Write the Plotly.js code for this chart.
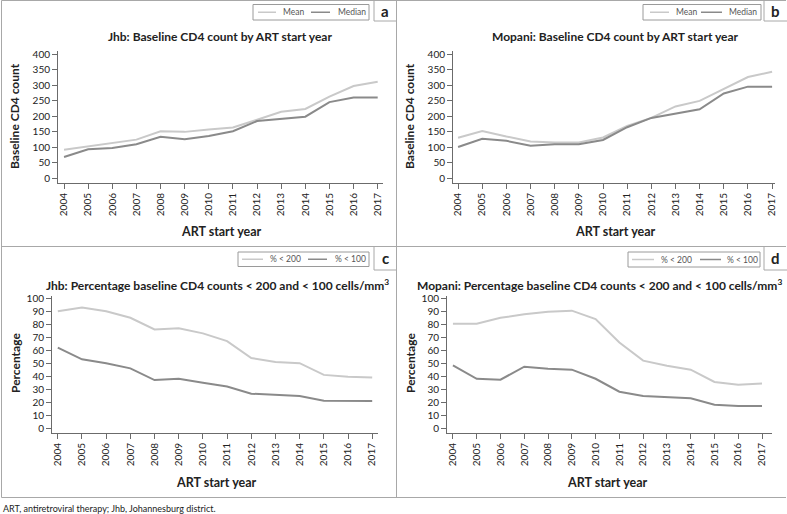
<!DOCTYPE html>
<html>
<head>
<meta charset="utf-8">
<script src="https://cdn.plot.ly/plotly-3.0.1.min.js"></script>
<style>
  body { margin: 0; background: #fff; }
  #plot { width: 787px; height: 514px; }
</style>
</head>
<body>
<div id="plot"></div>
<script>
// ART start years (shared by all four panels)
const years = [2004, 2005, 2006, 2007, 2008, 2009, 2010, 2011, 2012, 2013, 2014, 2015, 2016, 2017];

// a: Jhb baseline CD4 count
const jhbMean   = [91, 102, 112, 124, 151, 149, 157, 163, 188, 214, 223, 263, 297, 311];
const jhbMedian = [68, 93, 97, 109, 133, 125, 136, 151, 184, 192, 198, 245, 260, 260];

// b: Mopani baseline CD4 count
const mopMean   = [130, 152, 134, 118, 115, 115, 131, 168, 194, 231, 249, 288, 326, 343];
const mopMedian = [100, 127, 120, 104, 109, 109, 123, 164, 194, 207, 222, 273, 295, 295];

// c: Jhb percentage < 200 and < 100
const jhbLt200 = [90, 93, 90, 85, 76, 77, 73, 67, 54, 51, 50, 41, 39.6, 39];
const jhbLt100 = [62, 53, 50, 46, 37, 38, 35, 32, 26.5, 25.5, 24.7, 21, 21, 20.8];

// d: Mopani percentage < 200 and < 100
const mopLt200 = [80.5, 80.5, 85, 87.7, 89.7, 90.5, 84, 66, 52, 48, 45, 35.5, 33.4, 34.4];
const mopLt100 = [48.3, 38, 37.3, 47.3, 45.8, 45, 38, 28, 24.7, 23.7, 22.9, 18, 17, 17];

const W = 787, H = 514;
const px = x => x / W;          // pixel -> paper x
const py = y => 1 - y / H;      // pixel (from top) -> paper y

const LIGHT = '#c9c9c9';
const DARK = '#8a8a8a';
const AXIS = '#6b6b6b';
const TEXT = '#222';
const BORDER = '#a8a8a8';
const FONT = 'Lato, "Open Sans", sans-serif';

function line(x, y, name, color, xa, ya) {
    return {
        x: x, y: y, name: name, type: 'scatter', mode: 'lines',
        line: { color: color, width: 2 },
        xaxis: xa, yaxis: ya, showlegend: false, hoverinfo: 'skip'
    };
}

const traces = [
    line(years, jhbMean, 'Mean', LIGHT, 'x', 'y'),
    line(years, jhbMedian, 'Median', DARK, 'x', 'y'),
    line(years, mopMean, 'Mean', LIGHT, 'x2', 'y2'),
    line(years, mopMedian, 'Median', DARK, 'x2', 'y2'),
    line(years, jhbLt200, '% < 200', LIGHT, 'x3', 'y3'),
    line(years, jhbLt100, '% < 100', DARK, 'x3', 'y3'),
    line(years, mopLt200, '% < 200', LIGHT, 'x4', 'y4'),
    line(years, mopLt100, '% < 100', DARK, 'x4', 'y4')
];

function xAxis(left, right, range, anchor) {
    return {
        domain: [px(left), px(right)], range: range, anchor: anchor,
        tickvals: years, tickangle: -90,
        ticks: 'outside', ticklen: 5, tickcolor: AXIS, tickwidth: 1,
        showline: true, linecolor: AXIS, linewidth: 1,
        showgrid: false, zeroline: false,
        tickfont: { family: FONT, size: 10, color: TEXT }
    };
}

function yAxis(top, bottom, range, dtick, anchor) {
    return {
        domain: [py(bottom), py(top)], range: range, anchor: anchor,
        tick0: 0, dtick: dtick,
        ticks: 'outside', ticklen: 5, tickcolor: AXIS, tickwidth: 1,
        showline: true, linecolor: AXIS, linewidth: 1,
        showgrid: false, zeroline: false,
        tickfont: { family: FONT, size: 10, color: TEXT }
    };
}

function label(text, x, y, size, bold, opts) {
    return Object.assign({
        text: bold ? '<b>' + text + '</b>' : text,
        x: px(x), y: py(y), xref: 'paper', yref: 'paper',
        xanchor: 'center', yanchor: 'middle',
        showarrow: false, font: { family: FONT, size: size, color: TEXT }
    }, opts || {});
}

function seg(x0, y0, x1, y1, color, width) {
    return { type: 'line', xref: 'paper', yref: 'paper',
        x0: px(x0), y0: py(y0), x1: px(x1), y1: py(y1),
        line: { color: color || BORDER, width: width || 1 } };
}

const annotations = [
    label('Jhb: Baseline CD4 count by ART start year', 220, 37, 12, true),
    label('Mopani: Baseline CD4 count by ART start year', 615, 37, 12, true),
    label('Jhb: Percentage baseline CD4 counts < 200 and < 100 cells/mm<sup>3</sup>', 217, 285, 12, true),
    label('Mopani: Percentage baseline CD4 counts < 200 and < 100 cells/mm<sup>3</sup>', 599, 285, 12, true),
    label('Baseline CD4 count', 15, 116, 12, true, { textangle: -90 }),
    label('Baseline CD4 count', 410, 116, 12, true, { textangle: -90 }),
    label('Percentage', 15, 363, 12, true, { textangle: -90 }),
    label('Percentage', 410, 363, 12, true, { textangle: -90 }),
    label('ART start year', 222, 232, 12.5, true),
    label('ART start year', 615, 232, 12.5, true),
    label('ART start year', 216, 482, 12.5, true),
    label('ART start year', 607, 482, 12.5, true),
    label('a', 385, 11, 15, true),
    label('b', 775, 11, 15, true),
    label('c', 385, 258, 15, true),
    label('d', 775, 258, 15, true),
    label('ART, antiretroviral therapy; Jhb, Johannesburg district.', 1, 508, 9, false, { xanchor: 'left' })
];

const shapes = [
    seg(1.5, 0.5, 786, 0.5),
    seg(1.5, 0.5, 1.5, 497.5),
    seg(396.5, 0.5, 396.5, 497.5),
    seg(1.5, 246.5, 786, 246.5),
    seg(1.5, 497.5, 786, 497.5),
    // letter boxes
    seg(374, 0.5, 374, 21), seg(374, 21, 396.5, 21),
    seg(764, 0.5, 764, 21), seg(764, 21, 787, 21),
    seg(374, 246.5, 374, 270), seg(374, 270, 396.5, 270),
    seg(764, 246.5, 764, 270), seg(764, 270, 787, 270)
];

// legend boxes: [box left, box right, top, bottom, line1 x0, x1, text1 x, line2 x0, x1, text2 x, name1, name2]
const legendBoxes = [
    [253, 369, 4.5, 20, 258, 276, 281, 311, 330, 336, 'Mean', 'Median'],
    [643, 761, 4.5, 20, 650, 669, 674, 701, 722, 727, 'Mean', 'Median'],
    [238, 369, 252, 266.5, 242, 263, 268, 308, 327, 333, '% &lt; 200', '% &lt; 100'],
    [628, 760, 252, 267, 632, 654, 659, 700, 721, 725, '% &lt; 200', '% &lt; 100']
];

legendBoxes.forEach(b => {
    const [l, r, t, bt, a0, a1, ta, b0, b1, tb, n1, n2] = b;
    const mid = (t + bt) / 2;
    shapes.push({ type: 'rect', xref: 'paper', yref: 'paper',
        x0: px(l), x1: px(r), y0: py(bt), y1: py(t),
        line: { color: '#9a9a9a', width: 1 }, fillcolor: 'rgba(0,0,0,0)' });
    shapes.push(seg(a0, mid, a1, mid, LIGHT, 1.5));
    shapes.push(seg(b0, mid, b1, mid, DARK, 1.5));
    annotations.push(label(n1, ta, mid, 8.5, false, { xanchor: 'left', font: { family: FONT, size: 8.5, color: '#555' } }));
    annotations.push(label(n2, tb, mid, 8.5, false, { xanchor: 'left', font: { family: FONT, size: 8.5, color: '#555' } }));
});

const layout = {
    width: W, height: H,
    margin: { l: 0, r: 0, t: 0, b: 0 },
    paper_bgcolor: '#fff', plot_bgcolor: '#fff',
    showlegend: false,
    font: { family: FONT, color: TEXT },
    xaxis: xAxis(58, 383, [2003.75, 2017.22], 'y'),
    yaxis: yAxis(51, 183, [-16, 410], 50, 'x'),
    xaxis2: xAxis(453, 775, [2003.79, 2017.12], 'y2'),
    yaxis2: yAxis(51, 183, [-16, 410], 50, 'x2'),
    xaxis3: xAxis(52, 378, [2003.76, 2017.24], 'y3'),
    yaxis3: yAxis(296, 433, [-3.8, 101.8], 10, 'x3'),
    xaxis4: xAxis(447, 772, [2003.75, 2017.42], 'y4'),
    yaxis4: yAxis(296, 433, [-3.8, 101.8], 10, 'x4'),
    annotations: annotations,
    shapes: shapes
};

Plotly.newPlot('plot', traces, layout, { staticPlot: true });
</script>
</body>
</html>
